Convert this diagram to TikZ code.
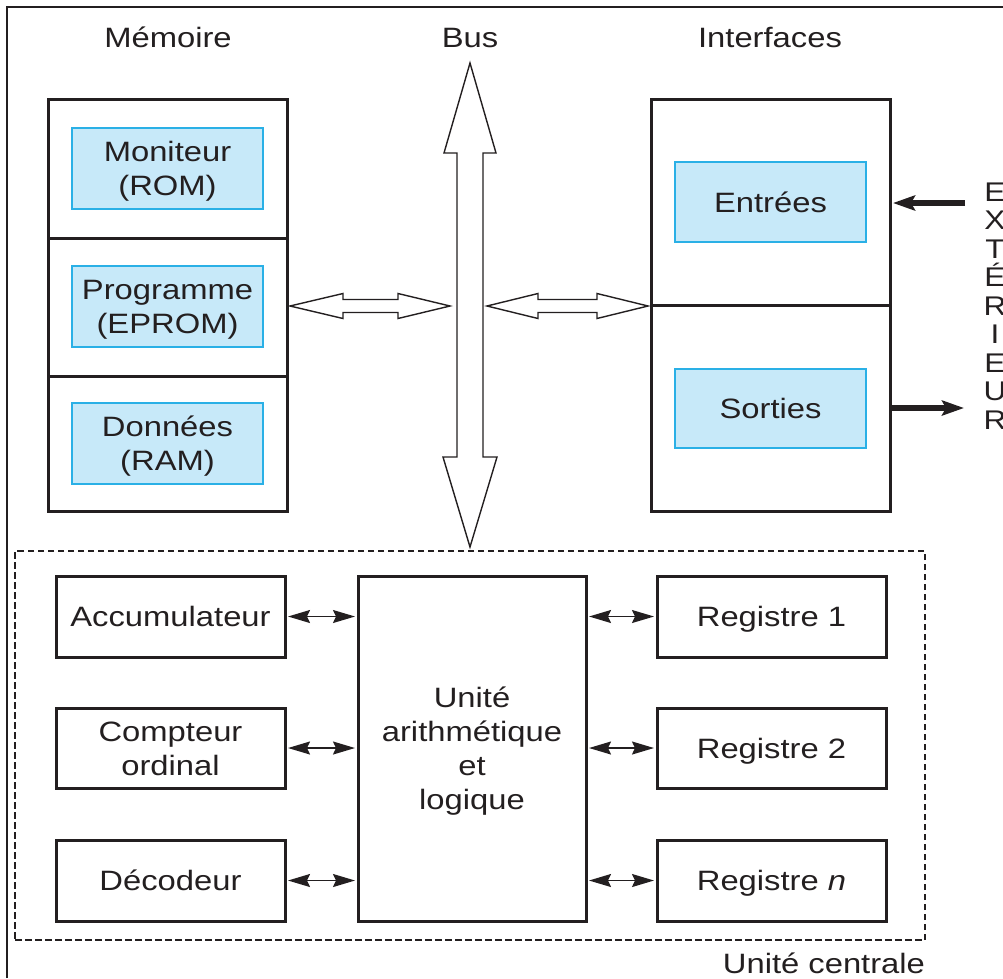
\documentclass[tikz,border=0pt]{standalone}
\usepackage{fontspec}
\setmainfont{Liberation Sans}[FakeStretch=1.17]
\usetikzlibrary{arrows.meta}
\definecolor{ink}{HTML}{231F20}
\definecolor{cellfill}{HTML}{C7E9F9}
\definecolor{celledge}{HTML}{2AB0E6}
\begin{document}
\begin{tikzpicture}[x=1pt,y=-1pt,
  every node/.style={text=ink, inner sep=0pt, outer sep=0pt,
    font=\fontsize{28}{34}\selectfont, align=center},
  % labels centred on their capitals
  oneline/.style={text height=20pt, text depth=0pt},
  twolines/.style={text height=54pt, text depth=0pt},
  fourlines/.style={text height=122pt, text depth=0pt},
  blk/.style={draw=ink, line width=3pt},
  cell/.style={draw=celledge, fill=cellfill, line width=1.6pt},
  hollow/.style={draw=ink, fill=white, line width=1.4pt, line join=miter},
  smallarrow/.style={draw=ink, line width=1.6pt,
    {Stealth[length=22pt,width=13pt,inset=3pt]}-{Stealth[length=22pt,width=13pt,inset=3pt]},
    shorten <=3pt, shorten >=3pt},
  fatarrow/.style={draw=ink, line width=5.5pt,
    -{Stealth[length=22pt,width=15pt,inset=4pt]}}]

\useasboundingbox (0,0) rectangle (1003,978);

% outer frame (top and left edges)
\draw[ink, line width=2pt] (7,978) -- (7,7) -- (1003,7);

% column titles
\node[anchor=base] (tmem) at (168,47) {Mémoire};
\node[anchor=base] (tbus) at (470,47) {Bus};
\node[anchor=base] (tint) at (770,47) {Interfaces};

% memory column
\node[blk, minimum width=239, minimum height=139] (mem1) at (167.5,168.5) {};
\node[blk, minimum width=239, minimum height=138] (mem2) at (167.5,307) {};
\node[blk, minimum width=239, minimum height=135] (mem3) at (167.5,443.5) {};
\node[cell, twolines, minimum width=191, minimum height=81] (mon) at (167.5,168.5) {Moniteur\\(ROM)};
\node[cell, twolines, minimum width=191, minimum height=81] (prog) at (167.5,306.5) {Programme\\(EPROM)};
\node[cell, twolines, minimum width=191, minimum height=81] (data) at (167.5,443.5) {Données\\(RAM)};

% interface column
\node[blk, minimum width=239, minimum height=206] (ifin) at (770.5,202) {};
\node[blk, minimum width=239, minimum height=206] (ifout) at (770.5,408) {};
\node[cell, oneline, minimum width=191, minimum height=80] (in) at (770.5,202) {Entrées};
\node[cell, oneline, minimum width=191, minimum height=79] (out) at (770.5,408.5) {Sorties};

% outside world
\node[font=\fontsize{27}{28.5}\selectfont] (ext) at (995,306) {E\\X\\T\\É\\R\\I\\E\\U\\R};
\coordinate (extin) at (965,203);
\coordinate (extout) at (964,408);
\draw[fatarrow, shorten >=3pt] (extin) -- (ifin.east |- extin);
\draw[fatarrow] (ifout.east |- extout) -- (extout);

% system bus
\draw[hollow] (470,63) -- (496,153) -- (483,153) -- (483,457) -- (497,457)
  -- (470,547) -- (443,457) -- (457,457) -- (457,153) -- (444,153) -- cycle;

% memory <-> bus
\draw[hollow] (290,306) -- (343,293.5) -- (343,299.5) -- (398,299.5) -- (398,293.5)
  -- (450,306) -- (398,318.5) -- (398,312.5) -- (343,312.5) -- (343,318.5) -- cycle;
% bus <-> interfaces
\draw[hollow] (487,306) -- (538,293.5) -- (538,299.5) -- (597,299.5) -- (597,293.5)
  -- (648,306) -- (597,318.5) -- (597,312.5) -- (538,312.5) -- (538,318.5) -- cycle;

% central unit
\node[draw=ink, line width=1.5pt, dash pattern=on 6.5pt off 3.5pt,
  minimum width=910, minimum height=389] (cpu) at (470,745.5) {};
\node[anchor=base east] (tcpu) at (925,973) {Unité centrale};

\node[blk, oneline, minimum width=229, minimum height=81] (acc) at (170.5,616.5) {Accumulateur};
\node[blk, twolines, minimum width=229, minimum height=80] (pc) at (170.5,748) {Compteur\\ordinal};
\node[blk, oneline, minimum width=229, minimum height=81] (dec) at (170.5,880.5) {Décodeur};
\node[blk, fourlines, minimum width=228, minimum height=345] (alu) at (472,748.5)
  {Unité\\arithmétique\\et\\logique};
\node[blk, oneline, minimum width=229, minimum height=81] (r1) at (771.5,616.5) {Registre 1};
\node[blk, oneline, minimum width=229, minimum height=80] (r2) at (771.5,748) {Registre 2};
\node[blk, oneline, minimum width=229, minimum height=81] (rn) at (771.5,880.5) {Registre \textit{n}};

\draw[smallarrow] (acc.east) -- (alu.west |- acc.east);
\draw[smallarrow] (pc.east) -- (alu.west |- pc.east);
\draw[smallarrow] (dec.east) -- (alu.west |- dec.east);
\draw[smallarrow] (alu.east |- r1.west) -- (r1.west);
\draw[smallarrow] (alu.east |- r2.west) -- (r2.west);
\draw[smallarrow] (alu.east |- rn.west) -- (rn.west);

\end{tikzpicture}
\end{document}
